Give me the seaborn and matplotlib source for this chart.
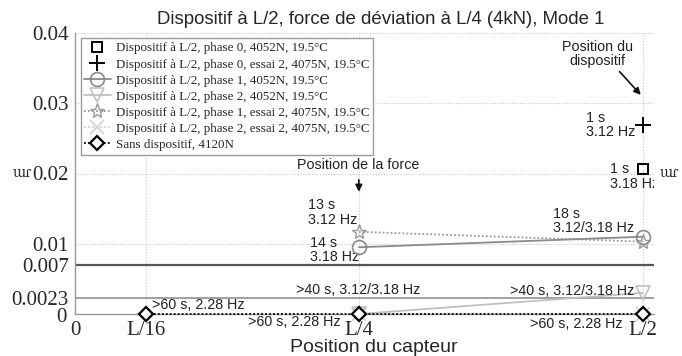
import matplotlib
matplotlib.use("Agg")
import matplotlib.pyplot as plt
import matplotlib.transforms as mtransforms
import seaborn as sns

# Sensor positions along the beam (fraction of span L)
pos_labels = ["0", "L/16", "L/4", "L/2"]
pos_values = [0.0, 0.0625, 0.25, 0.5]

# Damping ratio per configuration
x_phase0 = [0.5]
y_phase0 = [0.0206]
x_phase0_e2 = [0.5]
y_phase0_e2 = [0.0269]
x_phase1 = [0.25, 0.5]
y_phase1 = [0.0095, 0.0110]
x_phase2 = [0.25, 0.5]
y_phase2 = [0.0, 0.0030]
x_phase1_e2 = [0.25, 0.5]
y_phase1_e2 = [0.0117, 0.0103]
x_phase2_e2 = [0.25, 0.5]
y_phase2_e2 = [0.0, 0.0]
x_sans = [0.0625, 0.25, 0.5]
y_sans = [0.0, 0.0, 0.0]

ref_levels = [0.007, 0.0023]
y_ticks = [0, 0.0023, 0.007, 0.01, 0.02, 0.03, 0.04]
y_ticklabels = ["0", "0.0023", "0.007", "0.01", "0.02", "0.03", "0.04"]

labels = [
    "Dispositif à L/2, phase 0, 4052N, 19.5°C",
    "Dispositif à L/2, phase 0, essai 2, 4075N, 19.5°C",
    "Dispositif à L/2, phase 1, 4052N, 19.5°C",
    "Dispositif à L/2, phase 2, 4052N, 19.5°C",
    "Dispositif à L/2, phase 1, essai 2, 4075N, 19.5°C",
    "Dispositif à L/2, phase 2, essai 2, 4075N, 19.5°C",
    "Sans dispositif, 4120N",
]

sns.set_style("white")
plt.rcParams["font.family"] = ["Liberation Sans", "DejaVu Sans"]

fig = plt.figure(figsize=(6.82, 3.56), dpi=100)
ax = fig.add_axes([75 / 682, 42 / 356, (654 - 75) / 682, (314 - 33) / 356])

SERIF = ["Liberation Serif", "DejaVu Serif"]

# grid
for xv in [0.0625, 0.25, 0.5]:
    ax.axvline(xv, color="#c8c8c8", lw=0.8, ls=(0, (1, 1.5)), zorder=0)
for yv in [0.01, 0.02, 0.03, 0.04]:
    ax.axhline(yv, color="#c8c8c8", lw=0.8, ls=(0, (1, 1.5)), zorder=0)

# reference damping levels
ax.axhline(ref_levels[0], color="#555555", lw=1.6, zorder=1)
ax.axhline(ref_levels[1], color="#999999", lw=1.3, zorder=1)


def series(x, y, color, marker, ms, ls, label, z, mew=1.2, fill="none"):
    sns.lineplot(x=x, y=y, ax=ax, color=color, marker=marker, ms=ms,
                 markeredgewidth=mew, markeredgecolor=color, markerfacecolor=fill,
                 ls=ls, lw=1.3, label=label, zorder=z, clip_on=False, estimator=None)


series(x_phase2_e2, y_phase2_e2, "#d0d0d0", "x", 10, (0, (1, 1.2)), labels[5], 2)
series(x_phase2, y_phase2, "#c0c0c0", "v", 10, "-", labels[3], 3)
series(x_phase1_e2, y_phase1_e2, "#9a9a9a", "*", 11, (0, (1, 1.2)), labels[4], 4, mew=1.0)
series(x_phase1, y_phase1, "#8a8a8a", "o", 10, "-", labels[2], 5)
series(x_sans, y_sans, "black", "D", 7.5, (0, (1, 1.2)), labels[6], 6, mew=1.6, fill="white")
series(x_phase0, y_phase0, "black", "s", 7, "none", labels[0], 6, mew=1.4)
series(x_phase0_e2, y_phase0_e2, "black", "+", 11, "none", labels[1], 6, mew=1.4)

ax.set_xlim(0, 0.51)
ax.set_ylim(0, 0.04)
ax.set_xticks(pos_values)
ax.set_xticklabels(pos_labels, fontsize=15, family=SERIF)
ax.set_yticks(y_ticks)
ax.set_yticklabels(y_ticklabels, fontsize=15, family=SERIF)
ax.tick_params(axis="both", length=3, width=0.8, color="#888888", pad=1.5, direction="out")
ax.tick_params(axis="x", pad=2)
for s in ["top", "right"]:
    ax.spines[s].set_visible(False)
for s in ["left", "bottom"]:
    ax.spines[s].set_color("#999999")
    ax.spines[s].set_linewidth(1.0)

# nudge the y "0" down a little, clear of the "0.0023" label above it
zero_lbl = ax.get_yticklabels()[0]
zero_lbl.set_transform(zero_lbl.get_transform()
                       + mtransforms.ScaledTranslation(-0.02, -1.5 / 100, fig.dpi_scale_trans))

fig.text(381 / 682, 1 - 20 / 356, "Dispositif à L/2, force de déviation à L/4 (4kN), Mode 1",
         fontsize=13.4, ha="center", va="center")
ax.set_xlabel("")
ax.set_ylabel("")
fig.text(374 / 682, 1 - 347.5 / 356, "Position du capteur", fontsize=14, ha="center", va="center")

# legend in original order
handles, labs = ax.get_legend_handles_labels()
hmap = dict(zip(labs, handles))
leg = ax.legend([hmap[l] for l in labels], labels, loc="upper left",
                bbox_to_anchor=(0.005, 0.99), prop={"family": SERIF, "size": 9.4},
                frameon=True, fancybox=False, edgecolor="#999999", framealpha=1,
                handlelength=2.0, handletextpad=0.4, labelspacing=0.3,
                borderpad=0.3, borderaxespad=0.2)
leg.get_frame().set_linewidth(1.0)

fs = 10.3
txt = dict(fontsize=fs, color="#222222", va="center", ha="left", linespacing=1.05)
ax.text(0.205, 0.01446, "13 s\n3.12 Hz", **txt)
ax.text(0.207, 0.00912, "14 s\n3.18 Hz", **txt)
ax.text(0.195, 0.00342, ">40 s, 3.12/3.18 Hz", **txt)
ax.text(0.0678, 0.00128, ">60 s, 2.28 Hz", **txt)
ax.text(0.152, -0.00114, ">60 s, 2.28 Hz", clip_on=False, **txt)
ax.text(0.4005, -0.00142, ">60 s, 2.28 Hz", clip_on=False, **txt)
ax.text(0.383, 0.00328, ">40 s, 3.12/3.18 Hz", **txt)
ax.text(0.421, 0.01325, "18 s\n3.12/3.18 Hz", **txt)
ax.text(0.450, 0.0269, "1 s\n3.12 Hz", **txt)
ax.text(0.471, 0.01959, "1 s\n3.18 Hz", clip_on=True, **txt)

ax.text(0.460, 0.0370, "Position du\ndispositif", fontsize=fs, color="#222222",
        ha="center", va="center", linespacing=1.05)
ax.annotate("", xy=(0.5, 0.0309), xytext=(0.478, 0.0348),
            arrowprops=dict(arrowstyle="-|>", color="#111111", lw=1.2, mutation_scale=10))
ax.text(0.249, 0.0212, "Position de la force", fontsize=fs, color="#222222",
        ha="center", va="center")
ax.annotate("", xy=(0.25, 0.0170), xytext=(0.25, 0.0195),
            arrowprops=dict(arrowstyle="-|>", color="#111111", lw=1.2, mutation_scale=10))

# axis symbol beside the 0.02 level on both sides
fig.text(22 / 682, 1 - 173 / 356, "ɯɾ", fontsize=10, family=["DejaVu Serif"], ha="center", va="center")
fig.text(669 / 682, 1 - 173 / 356, "ɯɾ", fontsize=10, family=["DejaVu Serif"], ha="center", va="center")

fig.savefig("out.png", dpi=100)
